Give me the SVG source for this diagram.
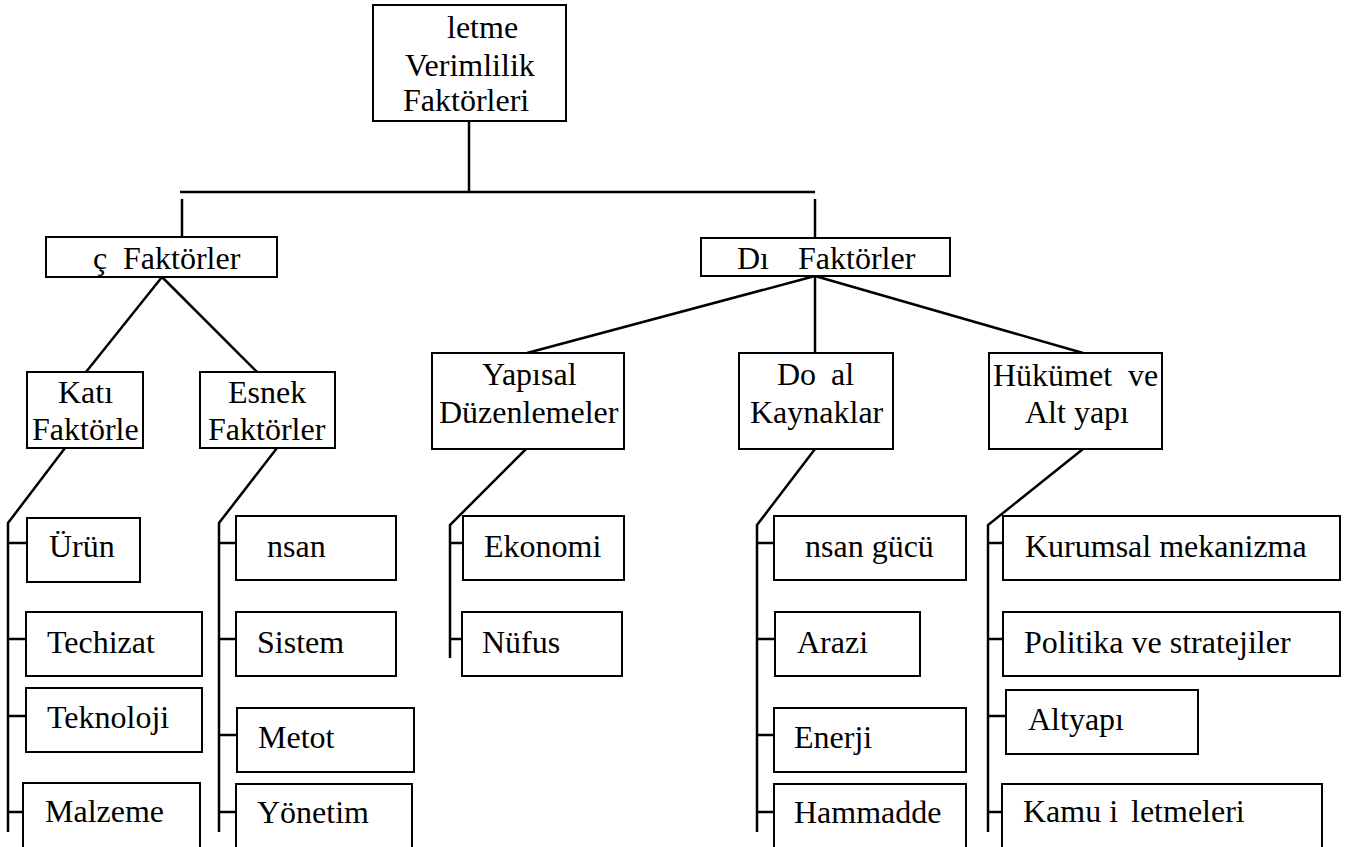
<svg xmlns="http://www.w3.org/2000/svg" width="1357" height="847" viewBox="0 0 1357 847">
<style>
.b{fill:#fff;stroke:#000;stroke-width:2}
.t{font-family:"Liberation Serif","Times New Roman",serif;font-size:32px;fill:#000}
.c{fill:none;stroke:#000;stroke-width:2.5;stroke-linejoin:miter}
</style>
<rect width="1357" height="847" fill="#fff"/>
<g id="connectors">
<line class="c" x1="469" y1="121" x2="469" y2="192"/>
<line class="c" x1="180" y1="192" x2="815" y2="192" stroke-width="3"/>
<line class="c" x1="182" y1="199" x2="182" y2="237"/>
<line class="c" x1="815" y1="199" x2="815" y2="238"/>
<line class="c" x1="162" y1="277" x2="86" y2="372"/>
<line class="c" x1="162" y1="277" x2="257" y2="372"/>
<line class="c" x1="815" y1="276" x2="527" y2="353"/>
<line class="c" x1="815" y1="276" x2="815" y2="353"/>
<line class="c" x1="815" y1="276" x2="1083" y2="353"/>
<polyline class="c" points="65,448 8,523 8,832"/>
<path class="c" d="M8 543H27M8 639H26M8 716H26M8 812H23"/>
<polyline class="c" points="277,448 219,523 219,832"/>
<path class="c" d="M219 543H236M219 639H236M219 735H237M219 812H236"/>
<polyline class="c" points="526,449 450,525 450,658"/>
<path class="c" d="M450 543H463M450 639H462"/>
<polyline class="c" points="815,449 757,525 757,832"/>
<path class="c" d="M757 543H774M757 639H775M757 735H774M757 812H774"/>
<polyline class="c" points="1083,449 988,525 988,832"/>
<path class="c" d="M988 543H1003M988 639H1003M988 716H1006M988 812H1002"/>
</g>
<g id="root"><rect class="b" x="373" y="5" width="193" height="116"/>
<text class="t" x="447" y="38">letme</text>
<text class="t" x="405" y="76">Verimlilik</text>
<text class="t" x="403" y="111">Faktörleri</text></g>
<g id="ic"><rect class="b" x="46" y="237" width="231" height="40"/>
<text class="t" x="93" y="269" xml:space="preserve">ç  <tspan x="123">Faktörler</tspan></text></g>
<g id="dis"><rect class="b" x="701" y="238" width="249" height="38"/>
<text class="t" x="737" y="269" xml:space="preserve">Dı   <tspan x="798">Faktörler</tspan></text></g>
<g id="kati"><rect class="b" x="27" y="372" width="116" height="76"/>
<text class="t" x="58" y="403">Katı</text>
<text class="t" x="32" y="440">Faktörle</text></g>
<g id="esnek"><rect class="b" x="200" y="372" width="135" height="76"/>
<text class="t" x="228" y="403">Esnek</text>
<text class="t" x="208" y="440">Faktörler</text></g>
<g id="yapisal"><rect class="b" x="432" y="353" width="192" height="96"/>
<text class="t" x="482" y="385">Yapısal</text>
<text class="t" x="439" y="423">Düzenlemeler</text></g>
<g id="dogal"><rect class="b" x="739" y="353" width="154" height="96"/>
<text class="t" x="777" y="385" xml:space="preserve">Do  <tspan x="831">al</tspan></text>
<text class="t" x="750" y="423">Kaynaklar</text></g>
<g id="hukumet"><rect class="b" x="989" y="353" width="173" height="96"/>
<text class="t" x="993" y="386" xml:space="preserve">Hükümet  ve</text>
<text class="t" x="1025" y="423">Alt yapı</text></g>
<g id="urun"><rect class="b" x="27" y="518" width="113" height="64"/><text class="t" x="49" y="557">Ürün</text></g>
<g id="techizat"><rect class="b" x="26" y="612" width="176" height="64"/><text class="t" x="47" y="653">Techizat</text></g>
<g id="teknoloji"><rect class="b" x="26" y="688" width="176" height="64"/><text class="t" x="47" y="728">Teknoloji</text></g>
<g id="malzeme"><rect class="b" x="23" y="783" width="177" height="70"/><text class="t" x="45" y="822">Malzeme</text></g>
<g id="insan"><rect class="b" x="236" y="516" width="160" height="64"/><text class="t" x="267" y="557">nsan</text></g>
<g id="sistem"><rect class="b" x="236" y="612" width="160" height="64"/><text class="t" x="257" y="653">Sistem</text></g>
<g id="metot"><rect class="b" x="237" y="708" width="177" height="64"/><text class="t" x="258" y="748">Metot</text></g>
<g id="yonetim"><rect class="b" x="236" y="784" width="176" height="70"/><text class="t" x="257" y="823">Yönetim</text></g>
<g id="ekonomi"><rect class="b" x="463" y="516" width="161" height="64"/><text class="t" x="484" y="557">Ekonomi</text></g>
<g id="nufus"><rect class="b" x="462" y="612" width="160" height="64"/><text class="t" x="482" y="653">Nüfus</text></g>
<g id="insangucu"><rect class="b" x="774" y="516" width="192" height="64"/><text class="t" x="805" y="557">nsan gücü</text></g>
<g id="arazi"><rect class="b" x="775" y="612" width="145" height="64"/><text class="t" x="797" y="653">Arazi</text></g>
<g id="enerji"><rect class="b" x="774" y="708" width="192" height="64"/><text class="t" x="794" y="748">Enerji</text></g>
<g id="hammadde"><rect class="b" x="774" y="784" width="192" height="70"/><text class="t" x="794" y="823">Hammadde</text></g>
<g id="kurumsal"><rect class="b" x="1003" y="516" width="337" height="64"/><text class="t" x="1025" y="557">Kurumsal mekanizma</text></g>
<g id="politika"><rect class="b" x="1003" y="612" width="337" height="64"/><text class="t" x="1024" y="653">Politika ve stratejiler</text></g>
<g id="altyapi"><rect class="b" x="1006" y="690" width="192" height="64"/><text class="t" x="1028" y="730">Altyapı</text></g>
<g id="kamu"><rect class="b" x="1002" y="784" width="320" height="70"/><text class="t" x="1023" y="822" xml:space="preserve">Kamu i  <tspan x="1131">letmeleri</tspan></text></g>
</svg>
